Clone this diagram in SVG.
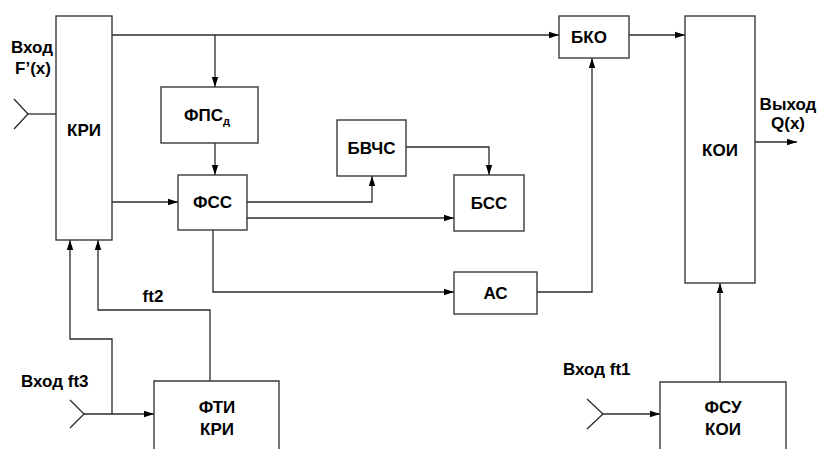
<svg xmlns="http://www.w3.org/2000/svg" width="818" height="449" viewBox="0 0 818 449">
<defs>
<marker id="arr" markerWidth="10" markerHeight="8" refX="10" refY="4" orient="auto" markerUnits="userSpaceOnUse">
<path d="M0,0.8 L10,4 L0,7.2 Z" fill="#000"/>
</marker>
<style>
.box{fill:#fff;stroke:#3a3a3a;stroke-width:1.4}
.ln{fill:none;stroke:#2a2a2a;stroke-width:1.3}
.t{font-family:"Liberation Sans",Arial,sans-serif;font-weight:bold;font-size:17px;fill:#000;text-anchor:middle}
.l{font-family:"Liberation Sans",Arial,sans-serif;font-weight:bold;font-size:17px;fill:#000}
</style>
</defs>
<rect width="818" height="449" fill="#fff"/>
<g id="connectors">
<path class="ln" d="M112,35 H559" marker-end="url(#arr)"/>
<path class="ln" d="M215,35 V87" marker-end="url(#arr)"/>
<path class="ln" d="M215,143 V175" marker-end="url(#arr)"/>
<path class="ln" d="M112,202 H178" marker-end="url(#arr)"/>
<path class="ln" d="M247,202 H372 V176" marker-end="url(#arr)"/>
<path class="ln" d="M247,218 H454" marker-end="url(#arr)"/>
<path class="ln" d="M406,147 H489 V175" marker-end="url(#arr)"/>
<path class="ln" d="M213,230 V292 H454" marker-end="url(#arr)"/>
<path class="ln" d="M537,292 H592 V58" marker-end="url(#arr)"/>
<path class="ln" d="M629,35 H685" marker-end="url(#arr)"/>
<path class="ln" d="M755,142 H797" marker-end="url(#arr)"/>
<path class="ln" d="M720,382 V283" marker-end="url(#arr)"/>
<path class="ln" d="M603,414 H660" marker-end="url(#arr)"/>
<path class="ln" d="M587,399 L603,414 L587,429"/>
<path class="ln" d="M210,381 V310 H98 V240" marker-end="url(#arr)"/>
<path class="ln" d="M84,414 H154" marker-end="url(#arr)"/>
<path class="ln" d="M112,414 V339 H70 V240" marker-end="url(#arr)"/>
<path class="ln" d="M70,400 L84,414 L70,428"/>
<path class="ln" d="M28,114 H56"/>
<path class="ln" d="M14,99 L28,114 L14,129"/>
</g>
<g id="kri"><rect class="box" x="56" y="16" width="56" height="224"/><text class="t" x="84" y="136">КРИ</text></g>
<g id="fpsd"><rect class="box" x="161" y="87" width="97" height="56"/><text class="t" x="207" y="121">ФПС<tspan font-size="11" dy="4">д</tspan></text></g>
<g id="fss"><rect class="box" x="178" y="175" width="69" height="55"/><text class="t" x="212.5" y="208">ФСС</text></g>
<g id="bvchs"><rect class="box" x="337" y="120" width="69" height="56"/><text class="t" x="371.5" y="154">БВЧС</text></g>
<g id="bss"><rect class="box" x="454" y="175" width="70" height="56"/><text class="t" x="489" y="209">БСС</text></g>
<g id="as"><rect class="box" x="454" y="272" width="83" height="42"/><text class="t" x="495.5" y="299">АС</text></g>
<g id="bko"><rect class="box" x="559" y="16" width="70" height="42"/><text class="t" x="589" y="43">БКО</text></g>
<g id="koi"><rect class="box" x="685" y="16" width="70" height="267"/><text class="t" x="720" y="156">КОИ</text></g>
<g id="fti"><path class="box" d="M154,449 V381 H279 V449"/><text class="t" x="217" y="413">ФТИ</text><text class="t" x="217" y="435">КРИ</text></g>
<g id="fsu"><path class="box" d="M660,449 V382 H786 V449"/><text class="t" x="723" y="413">ФСУ</text><text class="t" x="723" y="435">КОИ</text></g>
<g id="labels">
<text class="t" x="32" y="53">Вход</text>
<text class="t" x="33" y="74">F’(x)</text>
<text class="t" x="788" y="110">Выход</text>
<text class="t" x="788" y="129">Q(x)</text>
<text class="l" x="21" y="387">Вход ft3</text>
<text class="t" x="153" y="302">ft2</text>
<text class="l" x="563" y="375">Вход ft1</text>
</g>
</svg>
